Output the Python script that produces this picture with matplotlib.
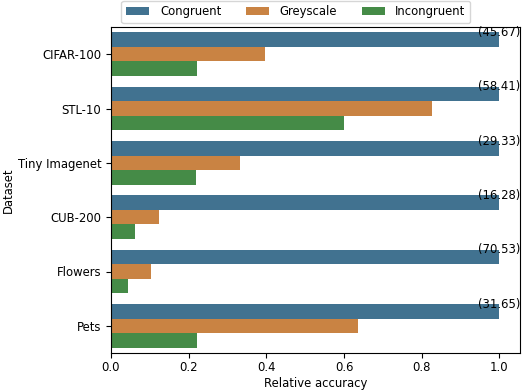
import numpy as np
import matplotlib
matplotlib.use("Agg")
import matplotlib.pyplot as plt

# relative accuracy per dataset (congruent normalised to 1.0)
datasets = ["CIFAR-100", "STL-10", "Tiny Imagenet", "CUB-200", "Flowers", "Pets"]
conditions = ["Congruent", "Greyscale", "Incongruent"]
congruent = [1.0, 1.0, 1.0, 1.0, 1.0, 1.0]
greyscale = [0.397, 0.826, 0.333, 0.123, 0.102, 0.636]
incongruent = [0.222, 0.599, 0.218, 0.061, 0.043, 0.222]
abs_acc = ["45.67", "58.41", "29.33", "16.28", "70.53", "31.65"]

colors = ["#417290", "#c98343", "#458b47"]

plt.rcParams["font.size"] = 8.4

fig = plt.figure(figsize=(5.24, 3.9), dpi=100)
ax = fig.add_axes([111 / 524, 1 - 353 / 390, 409 / 524, 326 / 390])

y = np.arange(len(datasets))
h = 0.8 / 3
for i, (vals, name) in enumerate(zip([congruent, greyscale, incongruent], conditions)):
    ax.barh(y - 0.4 + h * (i + 0.5), vals, height=h, color=colors[i], label=name)

# absolute accuracy on top of congruent bar
for yi, v, txt in zip(y, congruent, abs_acc):
    ax.text(v, yi - 0.4, "(" + txt + ")", ha="center", va="center", fontsize=8.4)

ax.set_ylim(len(datasets) - 0.5, -0.5)
ax.set_xlim(0, 1.053)
ax.set_yticks(y)
ax.set_yticklabels(datasets)
ax.tick_params(axis="x", pad=2.5)
ax.set_xlabel("Relative accuracy", labelpad=2)
ax.set_ylabel("Dataset", labelpad=2)

ax.legend(loc="lower center", bbox_to_anchor=(0.452, 1.012), ncol=3,
          borderaxespad=0, columnspacing=2.1, handlelength=2.0,
          handletextpad=0.9)

fig.savefig("out.png", dpi=100)
